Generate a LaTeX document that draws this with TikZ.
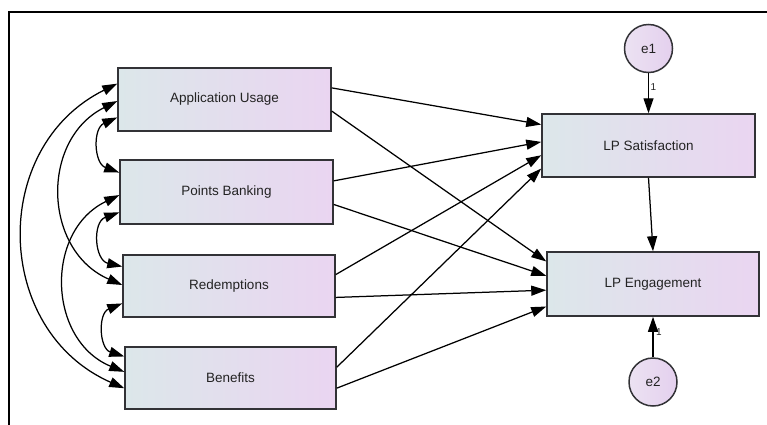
\documentclass[tikz,border=0pt]{standalone}
\usepackage{fontspec}
\setmainfont{Liberation Sans}
\usetikzlibrary{arrows.meta,calc}

\definecolor{boxleft}{RGB}{220,231,234}
\definecolor{boxright}{RGB}{234,213,241}
\definecolor{circleft}{RGB}{236,226,242}
\definecolor{circright}{RGB}{228,208,238}
\definecolor{boxline}{RGB}{50,50,54}
\definecolor{textgray}{RGB}{35,35,35}

\begin{document}
\begin{tikzpicture}[x=1pt,y=1pt,
  varbox/.style={draw=boxline, line width=1.5pt, left color=boxleft, right color=boxright,
    minimum width=212pt, minimum height=63pt, inner sep=0pt,
    font=\fontsize{13.5}{16}\selectfont, text=textgray},
  errc/.style={circle, draw=boxline, line width=1.5pt, left color=circleft, right color=circright,
    minimum size=48pt, inner sep=0pt, font=\fontsize{13.5}{16}\selectfont, text=textgray},
  tipshape/.tip={Triangle[length=15pt,width=10pt]},
  regline/.style={-tipshape, line width=1.25pt, black},
  covline/.style={tipshape-tipshape, line width=1.25pt, black},
  wlabel/.style={font=\fontsize{10}{11}\selectfont, inner sep=1.5pt, text=textgray}
]
\useasboundingbox (0,0) rectangle (767,424);

% outer frame
\begin{scope}
  \clip (0,0) rectangle (767,424);
  \draw[line width=1.6pt, black] (9,-10) -- (9,412) -- (790,412);
\end{scope}

% observed variables
\node[varbox, minimum width=213pt] (au) at (224.5,324.5) {Application Usage};
\node[varbox, minimum width=213pt, minimum height=64pt] (pb) at (226.5,232) {Points Banking};
\node[varbox, minimum height=62pt] (red) at (229,138) {Redemptions};
\node[varbox, minimum width=211pt, minimum height=62pt] (ben) at (230.5,46) {Benefits};
\node[varbox, minimum width=213pt] (lps) at (648.5,278.5) {LP Satisfaction};
\node[varbox, minimum height=64pt] (lpe) at (653,140) {LP Engagement};

% error terms
\node[errc] (e1) at (648.5,375.5) {e1};
\node[errc] (e2) at (653,42) {e2};

% regression paths to LP Satisfaction
\draw[regline] ($(au.north east)!0.32!(au.south east)$)   -- ($(lps.north west)!0.175!(lps.south west)$);
\draw[regline] ($(pb.north east)!0.33!(pb.south east)$)   -- ($(lps.north west)!0.444!(lps.south west)$);
\draw[regline] ($(red.north east)!0.32!(red.south east)$) -- ($(lps.north west)!0.651!(lps.south west)$);
\draw[regline] ($(ben.north east)!0.33!(ben.south east)$) -- ($(lps.north west)!0.857!(lps.south west)$);

% regression paths to LP Engagement
\draw[regline] ($(au.north east)!0.68!(au.south east)$)   -- ($(lpe.north west)!0.156!(lpe.south west)$);
\draw[regline] ($(pb.north east)!0.69!(pb.south east)$)   -- ($(lpe.north west)!0.375!(lpe.south west)$);
\draw[regline] ($(red.north east)!0.68!(red.south east)$) -- ($(lpe.north west)!0.594!(lpe.south west)$);
\draw[regline] ($(ben.north east)!0.66!(ben.south east)$) -- ($(lpe.north west)!0.844!(lpe.south west)$);

% satisfaction -> engagement
\draw[regline] (lps.south) -- (lpe.north);

% error paths
\draw[regline] (e1.south) -- node[wlabel, right, pos=0.35] {1} (lps.north);
\draw[regline] (e2.north) -- node[wlabel, right, pos=0.62, xshift=1pt] {1} (lpe.south);

% covariances between the exogenous variables
\draw[covline] ($(au.north west)!0.254!(au.south west)$) to[bend right=65, looseness=1.2]
               ($(ben.north west)!0.661!(ben.south west)$);
\draw[covline] ($(au.north west)!0.524!(au.south west)$) to[bend right=65, looseness=1.2]
               ($(red.north west)!0.484!(red.south west)$);
\draw[covline] ($(au.north west)!0.778!(au.south west)$) to[bend right=68, looseness=1.25]
               ($(pb.north west)!0.203!(pb.south west)$);
\draw[covline] ($(pb.north west)!0.547!(pb.south west)$) to[bend right=66, looseness=1.2]
               ($(ben.north west)!0.403!(ben.south west)$);
\draw[covline] ($(pb.north west)!0.8125!(pb.south west)$) to[bend right=74, looseness=1.35]
               ($(red.north west)!0.194!(red.south west)$);
\draw[covline] ($(red.north west)!0.774!(red.south west)$) to[bend right=70, looseness=1.27]
               ($(ben.north west)!0.161!(ben.south west)$);
\end{tikzpicture}
\end{document}
